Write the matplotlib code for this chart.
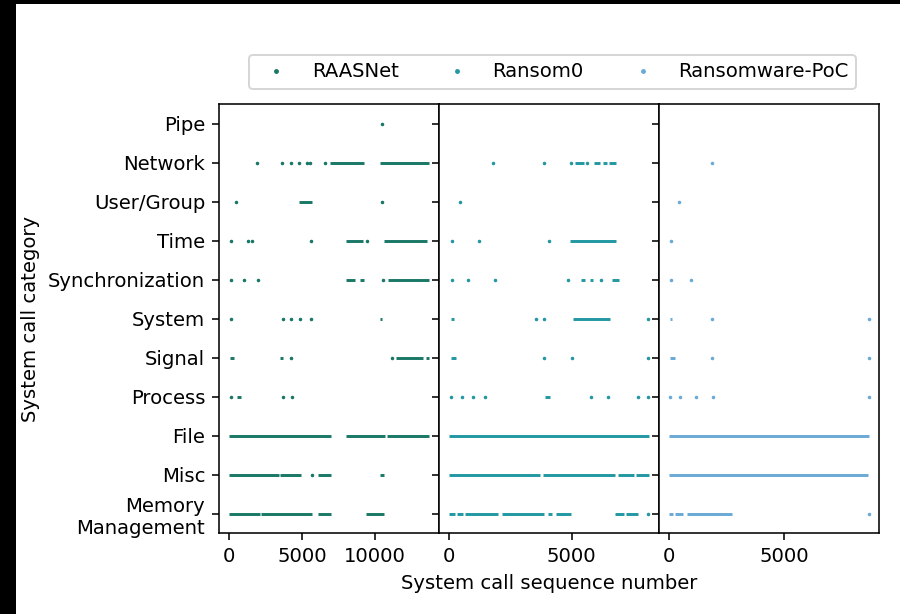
import matplotlib
matplotlib.use('Agg')
import matplotlib.pyplot as plt
from matplotlib.lines import Line2D
from matplotlib.patches import Rectangle

categories = ['Memory\nManagement', 'Misc', 'File', 'Process', 'Signal', 'System',
              'Synchronization', 'Time', 'User/Group', 'Network', 'Pipe']
samples = ['RAASNet', 'Ransom0', 'Ransomware-PoC']
colors = ['#1a7867', '#2398a3', '#6aaad6']
xticks = [[0, 5000, 10000], [0, 5000], [0, 5000]]

# isolated calls (sequence numbers) and dense runs (start, end) per category
raas_points = {
    'Pipe': [10520],
    'Network': [1913, 3668, 4260, 4829, 5375, 5580, 6604],
    'User/Group': [478, 10477],
    'Time': [116, 1298, 1571, 5650, 9430],
    'Synchronization': [116, 1025, 1981, 10545],
    'System': [116, 3688, 4282, 4849, 5601],
    'Signal': [4282, 11160],
    'Process': [116, 3710, 4300],
    'Misc': [5696],
}
raas_runs = {
    'Network': [(6925, 9268), (10340, 13708)],
    'User/Group': [(4781, 5669)],
    'Time': [(8018, 9200), (10614, 13592)],
    'Synchronization': [(8018, 8633), (8995, 9220), (10887, 13708)],
    'System': [(10340, 10518)],
    'Signal': [(48, 321), (3510, 3736), (11474, 13318), (13503, 13708)],
    'Process': [(546, 820)],
    'File': [(0, 7014), (8018, 10682), (10864, 13708)],
    'Misc': [(0, 3415), (3506, 4965), (6079, 7014), (10318, 10591)],
    'Memory\nManagement': [(0, 2097), (2213, 5669), (6079, 7014), (9425, 10591)],
}

ransom0_points = {
    'Network': [1784, 3891, 4986, 5647],
    'User/Group': [446],
    'Time': [135, 1216, 4080],
    'Synchronization': [122, 770, 1864, 4864, 6188],
    'System': [3567, 3891, 8120],
    'Signal': [3864, 4999, 8120],
    'Process': [95, 527, 973, 1486, 5796, 6471, 7700, 8120],
    'Memory\nManagement': [8106],
}
ransom0_runs = {
    'Network': [(5161, 5499), (5931, 6180), (6280, 6460), (6540, 6809)],
    'Time': [(4931, 6809)],
    'Synchronization': [(5377, 5539), (5742, 5863), (6660, 6917)],
    'System': [(81, 189), (5066, 6580)],
    'Signal': [(68, 297)],
    'Process': [(3904, 4107)],
    'File': [(0, 8160)],
    'Misc': [(0, 3715), (3850, 6782), (6877, 7552), (7620, 8160)],
    'Memory\nManagement': [(0, 230), (324, 567), (648, 1986), (2162, 3877),
                           (4053, 4215), (4350, 4985), (6755, 7120), (7214, 7728)],
}

poc_points = {
    'Network': [1855],
    'User/Group': [420],
    'Time': [87],
    'Synchronization': [72, 942],
    'System': [1855, 8665],
    'Signal': [1855, 8651],
    'Process': [58, 493, 1174, 1898, 8665],
    'Memory\nManagement': [8651],
}
poc_runs = {
    'System': [(29, 145)],
    'Signal': [(29, 261)],
    'File': [(0, 8665)],
    'Misc': [(0, 8622)],
    'Memory\nManagement': [(0, 188), (261, 623), (768, 2724)],
}

all_points = [raas_points, ransom0_points, poc_points]
all_runs = [raas_runs, ransom0_runs, poc_runs]

fig, axes = plt.subplots(1, 3, sharey=True, figsize=(900 / 141, 614 / 141), dpi=141)
fig.subplots_adjust(left=0.2433, right=0.9767, bottom=0.1319, top=0.8306, wspace=0)

# screenshot frame: black strip on the left and top
fig.patch.set_facecolor('black')
fig.add_artist(Rectangle((16 / 900, 0), 1, 1 - 4 / 614, transform=fig.transFigure,
                         facecolor='white', edgecolor='none', zorder=-10))

for i, ax in enumerate(axes):
    c = colors[i]
    for cat, xs in all_points[i].items():
        y = categories.index(cat)
        ax.plot(xs, [y] * len(xs), '.', color=c, ms=2.4, mew=0.6, linestyle='None')
    for cat, runs in all_runs[i].items():
        y = categories.index(cat)
        for a, b in runs:
            ax.hlines(y, a, b, color=c, linewidth=1.5)
    ax.set_xticks(xticks[i])

axes[0].set_yticks(range(len(categories)))
axes[0].set_yticklabels(categories)
axes[0].set_ylabel('System call category')
axes[1].set_xlabel('System call sequence number')

handles = [Line2D([], [], marker='.', color=c, linestyle='None', ms=3) for c in colors]
fig.legend(handles, samples, ncol=3, loc='upper right',
           bbox_to_anchor=(0.962, 0.927))

fig.savefig('out.png', dpi=141, facecolor=fig.get_facecolor())
